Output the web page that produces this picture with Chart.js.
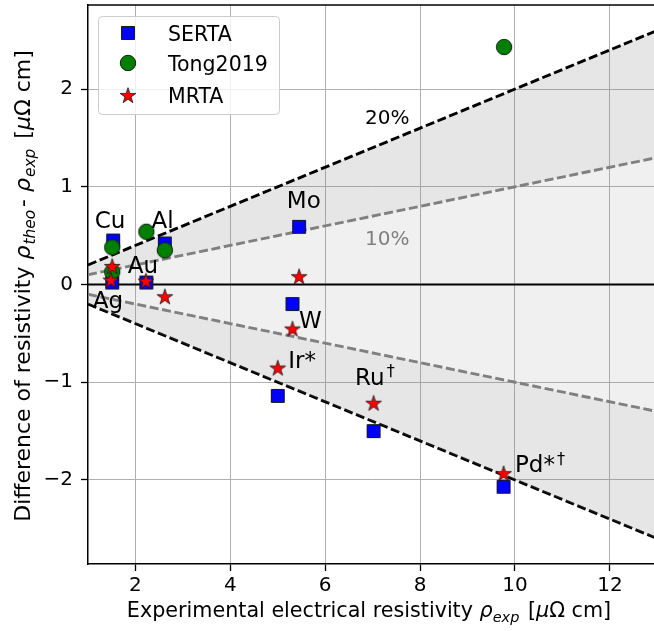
<!DOCTYPE html>
<html><head><meta charset="utf-8">
<script src="https://cdn.jsdelivr.net/npm/chart.js@4.4.0/dist/chart.umd.min.js"></script>
<style>html,body{margin:0;padding:0;background:#fff;}canvas{display:block;}</style>
</head><body>
<canvas id="c" width="654" height="631"></canvas>
<script>
// ---------------- data ----------------
const elements   = ['Ag', 'Cu', 'Au', 'Al', 'Mo', 'W', 'Ir', 'Ru', 'Pd'];
const sertaX     = [1.51, 1.53, 2.23, 2.62, 5.45, 5.31, 5.00, 7.02, 9.76];
const sertaY     = [0.02, 0.45, 0.02, 0.42, 0.59, -0.20, -1.14, -1.50, -2.07];
const tongElems  = ['Ag', 'Cu', 'Au', 'Al', 'Pd'];
const tongX      = [1.51, 1.51, 2.23, 2.62, 9.77];
const tongY      = [0.13, 0.38, 0.54, 0.35, 2.43];
const mrtaX      = [1.48, 1.51, 2.22, 2.62, 5.45, 5.31, 5.00, 7.02, 9.76];
const mrtaY      = [0.04, 0.18, 0.03, -0.13, 0.075, -0.46, -0.86, -1.22, -1.94];
const seriesNames = ['SERTA', 'Tong2019', 'MRTA'];
const bandPercents = [20, 10];
const lineX      = [1, 13];
const xTicks     = [2, 4, 6, 8, 10, 12];
const yTicks     = [-2, -1, 0, 1, 2];
const xLimits    = [1, 12.93];
const yLimits    = [-2.86, 2.86];
// annotations (text, superscript, data position of baseline-left)
const labelTexts = ['Cu', 'Al', 'Au', 'Ag', 'Mo', 'W', 'Ir*', 'Ru', 'Pd*'];
const labelSups  = ['', '', '', '', '', '', '', '\u2020', '\u2020'];
const labelX     = [1.14, 2.34, 1.84, 1.10, 5.19, 5.45, 5.22, 6.63, 10.0];
const labelY     = [0.576, 0.58, 0.12, -0.245, 0.78, -0.45, -0.857, -1.025, -1.92];
const pctTexts   = ['20%', '10%'];
const pctX       = [6.84, 6.84];
const pctY       = [1.644, 0.404];

// ---------------- styling helpers ----------------
const FONT = '"DejaVu Sans", sans-serif';
function marker(kind) {
  const S = 22, c = document.createElement('canvas');
  c.width = S; c.height = S;
  const g = c.getContext('2d');
  g.translate(S / 2, S / 2);
  g.beginPath();
  if (kind === 'square') {
    g.rect(-6.5, -6.5, 13, 13);
    g.fillStyle = '#0000ff';
  } else if (kind === 'circle') {
    g.arc(0, 0, 7.7, 0, Math.PI * 2);
    g.fillStyle = '#008000';
  } else {
    const R = 8.3, r = R * 0.382;
    for (let k = 0; k < 10; k++) {
      const a = -Math.PI / 2 + k * Math.PI / 5, rr = k % 2 ? r : R;
      g.lineTo(rr * Math.cos(a), rr * Math.sin(a));
    }
    g.closePath();
    g.fillStyle = '#ff0000';
  }
  g.fill();
  g.lineWidth = kind === 'star' ? 0.8 : 1;
  g.strokeStyle = '#1a1a1a';
  g.stroke();
  return c;
}
const mSquare = marker('square'), mCircle = marker('circle'), mStar = marker('star');

const pts = (xs, ys) => xs.map((x, i) => ({ x, y: ys[i] }));
const pctLine = (p) => lineX.map(x => ({ x, y: p / 100 * x }));

function lineDs(data, color, dash, width, fill, fillColor, order) {
  return { data, showLine: true, pointRadius: 0, borderColor: color, borderWidth: width,
    borderDash: dash, fill: fill, backgroundColor: fillColor, order, tension: 0 };
}
const outerFill = 'rgba(128,128,128,0.2)';
const innerFill = 'rgba(128,128,128,0.12)';
const DASH = [9, 3.6];
const datasets = [
  lineDs(pctLine(bandPercents[0]), '#000', DASH, 2.9, 1, outerFill, 5),
  lineDs(pctLine(bandPercents[1]), '#808080', DASH, 2.9, 2, innerFill, 5),
  lineDs(pctLine(-bandPercents[1]), '#808080', DASH, 2.9, 3, outerFill, 5),
  lineDs(pctLine(-bandPercents[0]), '#000', DASH, 2.9, false, outerFill, 5),
  lineDs(pctLine(0), '#000', [], 2.2, false, 'transparent', 4),
  { label: seriesNames[0], data: pts(sertaX, sertaY), pointStyle: mSquare, pointRadius: 8, order: 2 },
  { label: seriesNames[1], data: pts(tongX, tongY), pointStyle: mCircle, pointRadius: 8, order: 1 },
  { label: seriesNames[2], data: pts(mrtaX, mrtaY), pointStyle: mStar, pointRadius: 8, order: 0 }
];

function segFont(s, base) {
  const size = (s.sub || s.sup) ? base * 0.7 : base;
  return (s.it ? 'italic ' : '') + size + 'px ' + FONT;
}
function richWidth(g, segs, base) {
  let w = 0;
  segs.forEach(s => { g.font = segFont(s, base); w += g.measureText(s.t).width + (s.gap || 0); });
  return w;
}
function drawRich(g, segs, x, y, base, align) {
  const w = richWidth(g, segs, base);
  let cx = align === 'center' ? x - w / 2 : x;
  g.textAlign = 'left'; g.textBaseline = 'alphabetic';
  segs.forEach(s => {
    g.font = segFont(s, base);
    const dy = s.sub ? base * 0.22 : (s.sup ? -base * 0.36 : 0);
    g.fillText(s.t, cx, y + dy);
    cx += g.measureText(s.t).width + (s.gap || 0);
  });
}
const fmt = v => v < 0 ? '\u2212' + Math.abs(v) : String(v);

const deco = {
  id: 'deco',
  afterDraw(chart) {
    const g = chart.ctx, a = chart.chartArea, xs = chart.scales.x, ys = chart.scales.y;
    g.save();
    // top spine
    g.strokeStyle = '#000'; g.lineWidth = 1.5;
    g.beginPath(); g.moveTo(a.left, a.top); g.lineTo(a.right, a.top); g.stroke();
    // annotations
    g.fillStyle = '#000';
    labelTexts.forEach((t, i) => {
      const segs = [{ t: t, gap: labelSups[i] ? 2 : 0 }];
      if (labelSups[i]) segs.push({ t: labelSups[i], sup: 1 });
      drawRich(g, segs, xs.getPixelForValue(labelX[i]), ys.getPixelForValue(labelY[i]), 23, 'left');
    });
    pctTexts.forEach((t, i) => {
      g.fillStyle = i === 0 ? '#000' : '#808080';
      g.font = '20px ' + FONT; g.textAlign = 'left'; g.textBaseline = 'alphabetic';
      g.fillText(t, xs.getPixelForValue(pctX[i]), ys.getPixelForValue(pctY[i]));
    });
    // legend
    g.fillStyle = 'rgba(255,255,255,0.8)';
    g.strokeStyle = '#cccccc'; g.lineWidth = 1;
    g.beginPath(); g.roundRect(98.5, 16.5, 181, 98, 4); g.fill(); g.stroke();
    const rows = [33.3, 63.3, 95.7], mk = [mSquare, mCircle, mStar];
    rows.forEach((ry, i) => {
      g.drawImage(mk[i], 128 - 11, Math.round(ry) - 11);
      g.fillStyle = '#000'; g.font = '20.5px ' + FONT; g.textAlign = 'left'; g.textBaseline = 'alphabetic';
      g.fillText(seriesNames[i], 168, ry + 7.5);
    });
    // axis titles
    g.fillStyle = '#000';
    drawRich(g, [
      { t: 'Experimental electrical resistivity ' }, { t: '\u03c1', it: 1 }, { t: 'exp', it: 1, sub: 1, gap: 2 },
      { t: ' [' }, { t: '\u03bc', it: 1 }, { t: '\u03a9' }, { t: ' cm]' }
    ], 369, 617, 20.7, 'center');
    g.translate(30, 286);
    g.rotate(-Math.PI / 2);
    drawRich(g, [
      { t: 'Difference of resistivity ' }, { t: '\u03c1', it: 1, gap: 1 }, { t: 'theo', it: 1, sub: 1, gap: 3 },
      { t: '- ' }, { t: '\u03c1', it: 1, gap: 1 }, { t: 'exp', it: 1, sub: 1, gap: 3 },
      { t: ' [' }, { t: '\u03bc', it: 1 }, { t: '\u03a9' }, { t: ' cm]' }
    ], 0, 0, 22, 'center');
    g.restore();
  }
};

new Chart(document.getElementById('c'), {
  type: 'scatter',
  data: { datasets },
  options: {
    responsive: false, animation: false, devicePixelRatio: 1,
    layout: { autoPadding: false, padding: { left: 0, right: 0, top: 5, bottom: 0 } },
    plugins: { legend: { display: false }, tooltip: { enabled: false } },
    scales: {
      x: {
        type: 'linear', min: xLimits[0], max: xLimits[1],
        afterBuildTicks: s => { s.ticks = xTicks.map(v => ({ value: v })); },
        afterFit: s => { s.height = 67; s.paddingLeft = 0; s.paddingRight = 0; },
        grid: { color: '#b0b0b0', lineWidth: 1, drawTicks: true, tickLength: 7, tickColor: '#000', tickWidth: 1.3 },
        border: { display: true, color: '#000', width: 1.5 },
        ticks: { font: { family: FONT, size: 20 }, color: '#000', padding: 3, maxRotation: 0, autoSkip: false, callback: v => fmt(v) }
      },
      y: {
        type: 'linear', min: yLimits[0], max: yLimits[1],
        afterBuildTicks: s => { s.ticks = yTicks.map(v => ({ value: v })); },
        afterFit: s => { s.width = 88; s.paddingTop = 0; s.paddingBottom = 0; },
        grid: { color: '#b0b0b0', lineWidth: 1, drawTicks: true, tickLength: 7, tickColor: '#000', tickWidth: 1.3 },
        border: { display: true, color: '#000', width: 1.5 },
        ticks: { font: { family: FONT, size: 20 }, color: '#000', padding: 8, autoSkip: false, callback: v => fmt(v) }
      }
    }
  },
  plugins: [deco]
});
</script>
</body></html>
